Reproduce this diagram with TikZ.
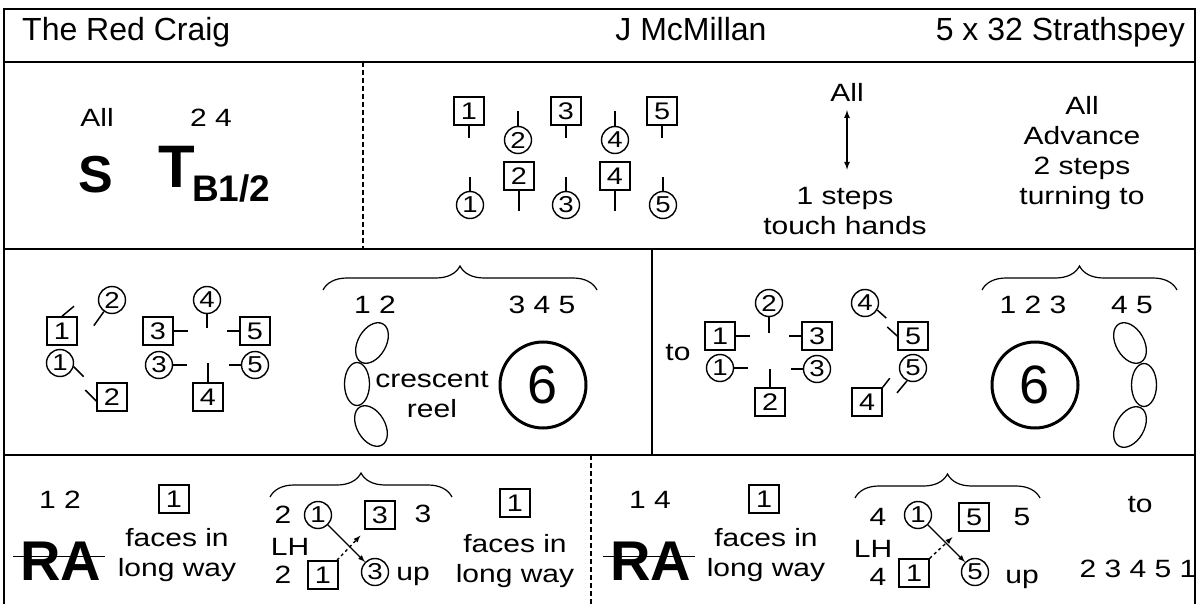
\documentclass[tikz,border=0pt]{standalone}
\usepackage{fontspec}
\setmainfont{Liberation Sans}
\newfontfamily\widefont[FakeStretch=1.2]{Liberation Sans}
\usetikzlibrary{decorations.pathreplacing}

\begin{document}
\begin{tikzpicture}[x=1pt, y=-1pt, >=latex,
    man/.style={draw, line width=1.5pt, minimum width=30pt, minimum height=28pt, inner sep=0pt, font=\widefont\fontsize{24}{24}\selectfont},
    lady/.style={draw, circle, line width=1.4pt, minimum size=27pt, inner sep=0pt, font=\widefont\fontsize{23}{23}\selectfont},
    txt/.style={anchor=base, inner sep=0pt, align=center, font=\widefont\fontsize{25}{30}\selectfont},
    hdr/.style={anchor=base, inner sep=0pt, font=\fontsize{32}{32}\selectfont},
    bold/.style={anchor=base, inner sep=0pt, font=\bfseries\fontsize{#1}{#1}\selectfont},
    six/.style={draw, circle, line width=3pt, minimum size=86pt, inner sep=0pt, font=\fontsize{54}{54}\selectfont},
    brace/.style={decorate, decoration={brace, amplitude=24pt}, line width=1.2pt},
    tick/.style={line width=1.5pt},
    loop/.style={line width=1.3pt}]
    \useasboundingbox (0,0) rectangle (1199,604);

    % 1. Khung và các đường chia
    \draw[line width=2.5pt] (4,604) -- (4,9) -- (1195,9) -- (1195,604);
    \draw[line width=2.5pt] (4,62) -- (1195,62);
    \draw[line width=2.5pt] (4,249) -- (1195,249);
    \draw[line width=2.5pt] (4,455) -- (1195,455);
    \draw[line width=1.5pt, dash pattern=on 5pt off 3pt] (363,62) -- (363,249);
    \draw[line width=2.5pt] (652,249) -- (652,455);
    \draw[line width=1.5pt, dash pattern=on 5pt off 3pt] (591,455) -- (591,604);

    % 2. Tiêu đề
    \node[hdr, anchor=base west] (title) at (22,41) {The Red Craig};
    \node[hdr] (deviser) at (691,41) {J McMillan};
    \node[hdr, anchor=base east] (form) at (1185,41) {5 x 32 Strathspey};

    % 3. Hàng 1: set, turn
    \node[txt] (allset) at (97,127) {All};
    \node[txt] (cpl24) at (211,127) {2 4};
    \node[bold=52] (setting) at (96,193) {S};
    \node[bold=60, anchor=base west] (turn) at (158,188) {T};
    \node[bold=37, anchor=base west] (both) at (192,202) {B1/2};

    % Hàng 1: vị trí các cặp
    \node[man] (m1) at (469,111) {1};
    \node[man] (m3) at (566,111) {3};
    \node[man] (m5) at (662,111) {5};
    \node[man] (m2) at (519,176) {2};
    \node[man] (m4) at (615,176) {4};
    \node[lady] (w2) at (518,140) {2};
    \node[lady] (w4) at (615,140) {4};
    \node[lady] (w1) at (470,205) {1};
    \node[lady] (w3) at (566,205) {3};
    \node[lady] (w5) at (663,205) {5};
    \draw[tick] (m1.south) -- ++(0,12);
    \draw[tick] (m3.south) -- ++(0,12);
    \draw[tick] (m5.south) -- ++(0,12);
    \draw[tick] (m2.south) -- ++(0,20);
    \draw[tick] (m4.south) -- ++(0,20);
    \draw[tick] (w2.north) -- ++(0,-15);
    \draw[tick] (w4.north) -- ++(0,-15);
    \draw[tick] (w1.north) -- ++(0,-14);
    \draw[tick] (w3.north) -- ++(0,-14);
    \draw[tick] (w5.north) -- ++(0,-14);

    % Hàng 1: tiến lên
    \node[txt] (alladv) at (847,102) {All};
    \node[txt] (touch) at (845,234) {1 steps\\touch hands};
    \draw[<->, line width=1.6pt, shorten <=8pt, shorten >=17pt] (alladv.south) -- (alladv.south |- touch.north);
    \node[txt] (advance) at (1082,205) {All\\Advance\\2 steps\\turning to};

    % 4. Hàng 2: vị trí bên trái
    \node[man] (m1b) at (62,331) {1};
    \node[lady] (w2b) at (112,300) {2};
    \node[lady] (w1b) at (60,363) {1};
    \node[man] (m2b) at (112,397) {2};
    \node[man] (m3b) at (158,331) {3};
    \node[lady] (w4b) at (207,300) {4};
    \node[man] (m5b) at (255,331) {5};
    \node[lady] (w3b) at (159,365) {3};
    \node[man] (m4b) at (208,397) {4};
    \node[lady] (w5b) at (255,365) {5};
    \draw[tick] (m1b.north) -- ++(12,-10);
    \draw[tick] (w2b.-125) -- ++(-10,14);
    \draw[tick] (w1b.-15) -- ++(10,10);
    \draw[tick] ([yshift=-4pt]m2b.west) -- ++(-11,-11);
    \draw[tick] (m3b.east) -- ++(14,0);
    \draw[tick] (w4b.south) -- ++(0,14);
    \draw[tick] (m5b.west) -- ++(-12,0);
    \draw[tick] (w3b.east) -- ++(14,0);
    \draw[tick] (m4b.north) -- ++(0,-19);
    \draw[tick] (w5b.west) -- ++(-12,0);

    % Hàng 2: reel lưỡi liềm và vòng 6
    \draw[brace] (323,290) -- (597,290);
    \node[txt] (cpl12) at (375,313) {1 2};
    \node[txt] (cpl345) at (542,313) {3 4 5};
    \draw[loop] (372,343) ellipse [x radius=14, y radius=22, rotate=-30];
    \draw[loop] (357,384) ellipse [x radius=12.5, y radius=21.5];
    \draw[loop] (371,426) ellipse [x radius=14, y radius=22, rotate=30];
    \node[txt] (crescent) at (432,417) {crescent\\reel};
    \node[six] (sixa) at (543,385) {6};

    % Hàng 2: vị trí bên phải
    \node[txt] (tob) at (678,360) {to};
    \node[man] (m1c) at (720,336) {1};
    \node[lady] (w2c) at (769,303) {2};
    \node[man] (m3c) at (817,336) {3};
    \node[lady] (w1c) at (720,368) {1};
    \node[man] (m2c) at (770,402) {2};
    \node[lady] (w3c) at (817,369) {3};
    \node[lady] (w4c) at (865,303) {4};
    \node[man] (m5c) at (913,336) {5};
    \node[lady] (w5c) at (913,368) {5};
    \node[man] (m4c) at (867,402) {4};
    \draw[tick] (m1c.east) -- ++(14,0);
    \draw[tick] (w2c.south) -- ++(0,16);
    \draw[tick] (m3c.west) -- ++(-12,0);
    \draw[tick] (w1c.east) -- ++(14,0);
    \draw[tick] (m2c.north) -- ++(0,-18);
    \draw[tick] (w3c.west) -- ++(-12,0);
    \draw[tick] (w4c.-30) -- ++(9,8);
    \draw[tick] (m5c.west) -- ++(-10,-9);
    \draw[tick] (w5c.-115) -- ++(-10,12);
    \draw[tick] (m4c.north east) -- ++(7,-9);

    \draw[brace] (982,290) -- (1177,290);
    \node[txt] (cpl123) at (1033,313) {1 2 3};
    \node[txt] (cpl45) at (1132,313) {4 5};
    \node[six] (sixb) at (1035,385) {6};
    \draw[loop] (1130,343) ellipse [x radius=14, y radius=22, rotate=30];
    \draw[loop] (1144,385) ellipse [x radius=12.5, y radius=21.5];
    \draw[loop] (1130,427) ellipse [x radius=14, y radius=22, rotate=-30];

    % 5. Hàng 3: bên trái
    \node[txt] (cpl12c) at (60,508) {1 2};
    \node[bold=56] (raa) at (61,580) {RA};
    \draw[line width=1.2pt] ([xshift=-7pt, yshift=4pt]raa.west) -- ([xshift=3pt, yshift=4pt]raa.east);
    \node[man] (fa) at (174,499) {1};
    \node[txt] (facesa) at (177,576) {faces in\\long way};
    \draw[brace] (270,497) -- (452,497);
    \node[txt] (twoa) at (283,523) {2};
    \node[txt] (lha) at (290,555) {LH};
    \node[txt] (twob) at (283,583) {2};
    \node[lady] (w1d) at (318,515) {1};
    \node[man] (m3d) at (380,515) {3};
    \node[txt] (threea) at (423,522) {3};
    \node[man] (m1d) at (323,575) {1};
    \node[lady] (w3d) at (375,572) {3};
    \node[txt] (upa) at (413,580) {up};
    \draw[->, line width=1.4pt] (w1d) -- (w3d);
    \draw[->, line width=1.4pt, dashed, shorten >=8pt] (m1d) -- (m3d);
    \node[man] (fb) at (515,503) {1};
    \node[txt] (facesb) at (515,582) {faces in\\long way};

    % Hàng 3: bên phải
    \node[txt] (cpl14) at (650,508) {1 4};
    \node[bold=56] (rab) at (651,580) {RA};
    \draw[line width=1.2pt] ([xshift=-7pt, yshift=4pt]rab.west) -- ([xshift=3pt, yshift=4pt]rab.east);
    \node[man] (fc) at (764,499) {1};
    \node[txt] (facesc) at (766,576) {faces in\\long way};
    \draw[brace] (855,498) -- (1040,498);
    \node[txt] (foura) at (878,525) {4};
    \node[txt] (lhb) at (873,557) {LH};
    \node[txt] (fourb) at (878,585) {4};
    \node[lady] (w1e) at (918,515) {1};
    \node[man] (m5e) at (974,517) {5};
    \node[txt] (fivea) at (1022,525) {5};
    \node[man] (m1e) at (914,573) {1};
    \node[lady] (w5e) at (975,572) {5};
    \node[txt] (upb) at (1022,583) {up};
    \draw[->, line width=1.4pt] (w1e) -- (w5e);
    \draw[->, line width=1.4pt, dashed, shorten >=8pt] (m1e) -- (m5e);
    \node[txt] (toc) at (1140,512) {to};
    \node[txt] (order) at (1138,577) {2 3 4 5 1};

\end{tikzpicture}
\end{document}
